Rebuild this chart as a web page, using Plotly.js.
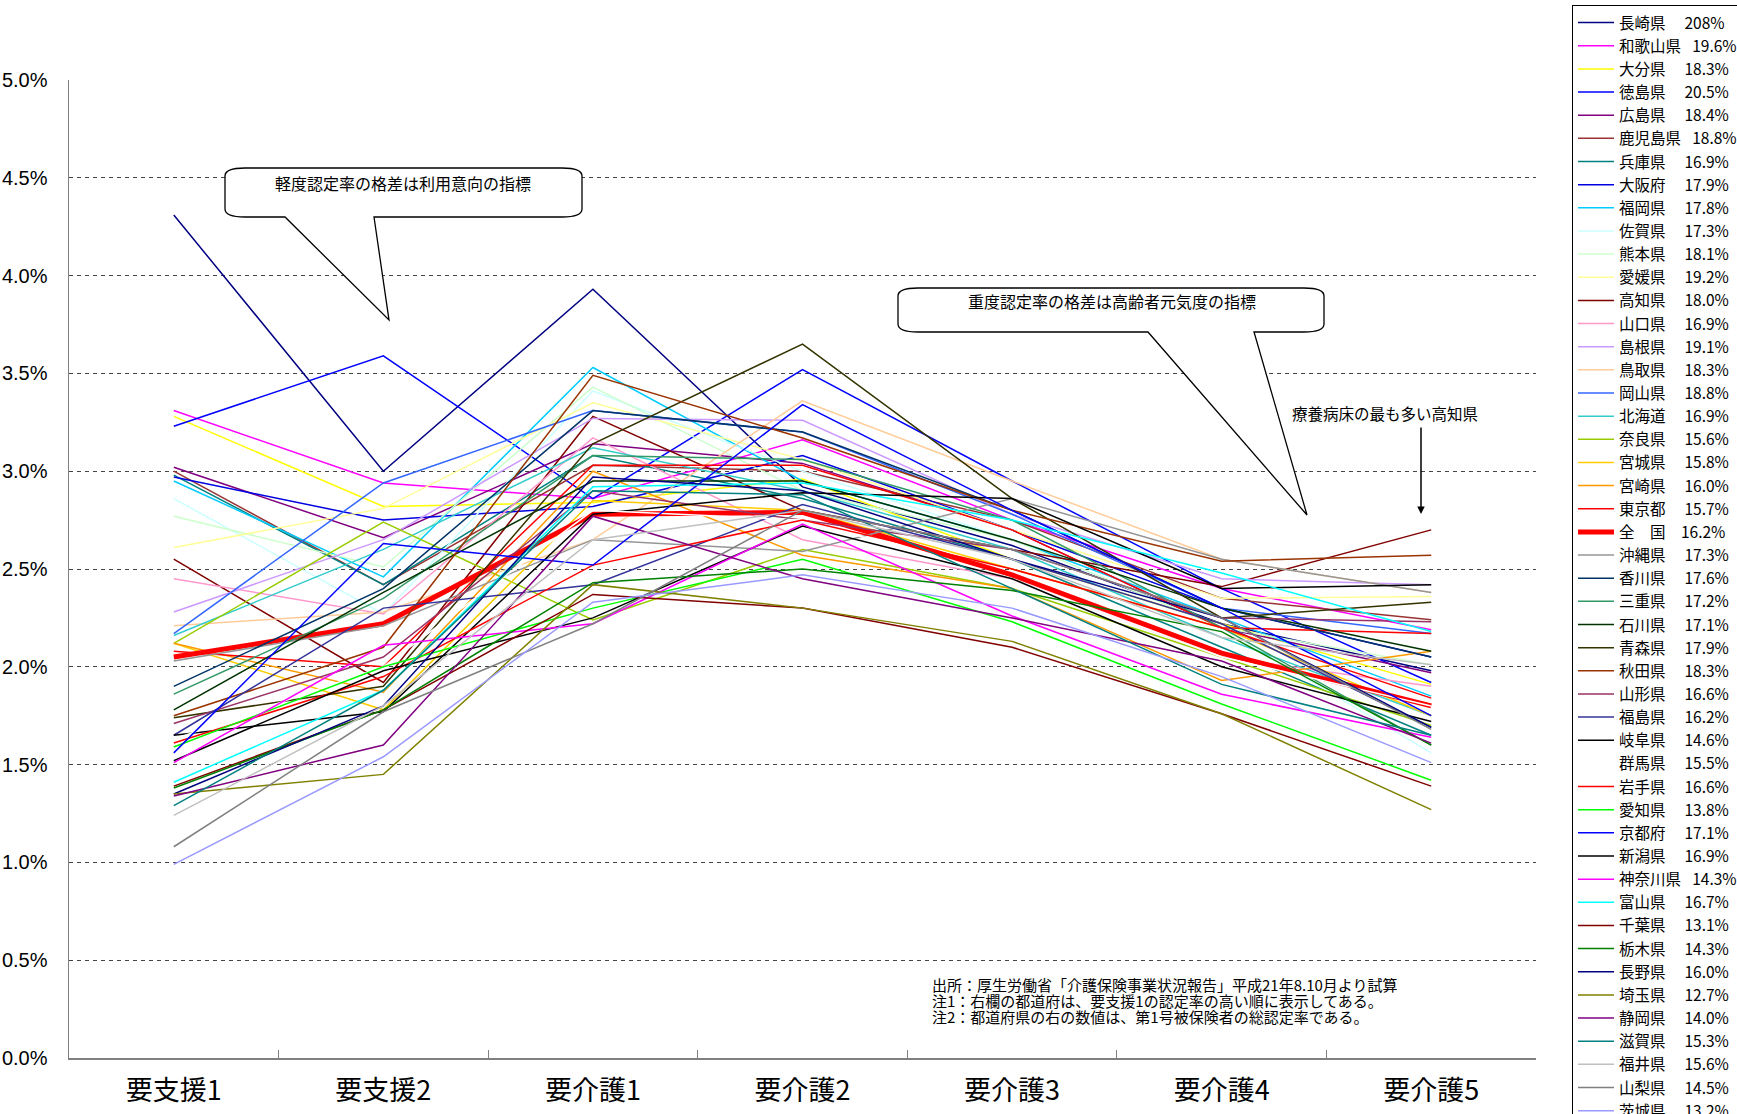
<!DOCTYPE html>
<html>
<head>
<meta charset="utf-8">
<script src="https://cdn.plot.ly/plotly-3.0.1.min.js"></script>
<style>
html,body{margin:0;padding:0;background:#fff;}
#chart{width:1737px;height:1114px;}
</style>
</head>
<body>
<div id="chart"></div>
<script>
// ---- data ----
const categories = ['要支援1','要支援2','要介護1','要介護2','要介護3','要介護4','要介護5'];

const prefNames = ['長崎県','和歌山県','大分県','徳島県','広島県','鹿児島県','兵庫県','大阪府','福岡県','佐賀県',
  '熊本県','愛媛県','高知県','山口県','島根県','鳥取県','岡山県','北海道','奈良県','宮城県',
  '宮崎県','東京都','全　国','沖縄県','香川県','三重県','石川県','青森県','秋田県','山形県',
  '福島県','岐阜県','群馬県','岩手県','愛知県','京都府','新潟県','神奈川県','富山県','千葉県',
  '栃木県','長野県','埼玉県','静岡県','滋賀県','福井県','山梨県','茨城県'];

const totalRates = ['208%','19.6%','18.3%','20.5%','18.4%','18.8%','16.9%','17.9%','17.8%','17.3%',
  '18.1%','19.2%','18.0%','16.9%','19.1%','18.3%','18.8%','16.9%','15.6%','15.8%',
  '16.0%','15.7%','16.2%','17.3%','17.6%','17.2%','17.1%','17.9%','18.3%','16.6%',
  '16.2%','14.6%','15.5%','16.6%','13.8%','17.1%','16.9%','14.3%','16.7%','13.1%',
  '14.3%','16.0%','12.7%','14.0%','15.3%','15.6%','14.5%','13.2%'];

const lineColors = ['#000080','#FF00FF','#FFFF00','#0000FF','#800080','#993333','#008080','#0000E0','#00CCFF','#CCFFFF',
  '#CCFFCC','#FFFF99','#800000','#FF99CC','#CC99FF','#FFCC99','#3366FF','#33CCCC','#99CC00','#FFCC00',
  '#FF9900','#FF0000','#FF0000','#969696','#003366','#339966','#003300','#333300','#993300','#993366',
  '#333399','#000000','#FFFFFF','#FF0000','#00FF00','#0000FF','#000000','#FF00FF','#00FFFF','#800000',
  '#008000','#000080','#808000','#800080','#008080','#C0C0C0','#808080','#9999FF'];

// rates (%) per prefecture, in the order of categories
const nagasaki  = [4.31, 3.00, 3.93, 2.92, 2.62, 2.22, 1.98];
const wakayama  = [3.31, 2.94, 2.86, 3.16, 2.75, 2.40, 2.19];
const oita      = [3.28, 2.82, 2.84, 2.96, 2.55, 2.22, 1.91];
const tokushima = [3.23, 3.59, 2.86, 3.52, 2.95, 2.40, 1.92];
const hiroshima = [3.02, 2.66, 3.14, 3.04, 2.70, 2.20, 1.97];
const kagoshima = [3.00, 2.42, 3.03, 3.00, 2.75, 2.35, 2.24];
const hyogo     = [2.98, 2.42, 3.08, 2.86, 2.55, 2.10, 1.65];
const osaka     = [2.97, 2.75, 2.82, 3.08, 2.70, 2.30, 2.05];
const fukuoka   = [2.95, 2.46, 3.53, 2.95, 2.65, 2.25, 1.85];
const saga      = [2.86, 2.27, 3.41, 3.00, 2.65, 2.20, 1.56];
const kumamoto  = [2.77, 2.51, 3.43, 2.90, 2.65, 2.20, 2.01];
const ehime     = [2.61, 2.81, 3.35, 3.06, 2.70, 2.35, 2.36];
const kochi     = [2.55, 1.92, 3.28, 2.80, 2.60, 2.41, 2.70];
const yamaguchi = [2.45, 2.27, 3.17, 2.65, 2.45, 2.05, 1.90];
const shimane   = [2.28, 2.65, 3.27, 3.26, 2.78, 2.45, 2.42];
const tottori   = [2.21, 2.28, 2.65, 3.36, 2.95, 2.55, 2.38];
const okayama   = [2.17, 2.94, 3.31, 3.20, 2.78, 2.30, 2.17];
const hokkaido  = [2.16, 2.60, 3.12, 2.90, 2.60, 2.15, 1.75];
const nara      = [2.12, 2.74, 2.24, 2.60, 2.40, 2.05, 1.70];
const miyagi    = [2.12, 1.78, 2.85, 2.80, 2.50, 2.20, 1.75];
const miyazaki  = [2.12, 1.87, 3.00, 2.57, 2.40, 1.93, 2.08];
const tokyo     = [2.08, 2.00, 3.03, 3.03, 2.70, 2.20, 2.17];
const national  = [2.05, 2.22, 2.78, 2.79, 2.47, 2.07, 1.80];
const okinawa   = [2.03, 2.21, 2.65, 2.59, 2.86, 2.55, 2.38];
const kagawa    = [1.90, 2.40, 3.31, 3.20, 2.80, 2.30, 2.05];
const mie       = [1.86, 2.35, 3.08, 3.06, 2.75, 2.20, 1.60];
const ishikawa  = [1.78, 2.38, 2.95, 2.95, 2.65, 2.30, 2.08];
const aomori    = [1.74, 1.90, 3.14, 3.65, 2.86, 2.25, 2.33];
const akita     = [1.75, 2.10, 3.49, 3.17, 2.80, 2.54, 2.57];
const yamagata  = [1.71, 2.05, 2.90, 2.75, 2.60, 2.25, 2.23];
const fukushima = [1.65, 2.30, 2.42, 2.83, 2.55, 2.22, 1.69];
const gifu      = [1.65, 1.77, 2.78, 2.89, 2.86, 2.40, 2.42];
const gunma     = [1.63, 2.00, 2.80, 2.75, 2.45, 2.05, 1.80];
const iwate     = [1.61, 1.95, 2.52, 2.75, 2.50, 2.20, 1.84];
const aichi     = [1.59, 2.00, 2.30, 2.55, 2.23, 1.81, 1.42];
const kyoto     = [1.56, 2.63, 2.52, 3.34, 2.80, 2.30, 1.75];
const niigata   = [1.52, 1.98, 2.25, 2.72, 2.45, 2.00, 1.72];
const kanagawa  = [1.51, 2.11, 2.22, 2.73, 2.26, 1.86, 1.64];
const toyama    = [1.41, 1.88, 2.92, 2.94, 2.75, 2.48, 2.18];
const chiba     = [1.39, 1.78, 2.37, 2.30, 2.10, 1.76, 1.39];
const tochigi   = [1.38, 1.78, 2.43, 2.50, 2.39, 2.18, 1.60];
const nagano    = [1.35, 1.80, 2.97, 2.90, 2.55, 2.25, 1.69];
const saitama   = [1.35, 1.45, 2.42, 2.30, 2.13, 1.76, 1.27];
const shizuoka  = [1.34, 1.60, 2.77, 2.45, 2.25, 2.03, 1.61];
const shiga     = [1.29, 1.88, 2.90, 2.88, 2.40, 1.91, 1.65];
const fukui     = [1.24, 1.80, 2.65, 2.80, 2.55, 2.15, 2.01];
const yamanashi = [1.08, 1.77, 2.22, 2.80, 2.60, 2.25, 1.68];
const ibaraki   = [0.99, 1.54, 2.33, 2.47, 2.30, 1.95, 1.51];

const seriesValues = [nagasaki, wakayama, oita, tokushima, hiroshima, kagoshima, hyogo, osaka, fukuoka, saga,
  kumamoto, ehime, kochi, yamaguchi, shimane, tottori, okayama, hokkaido, nara, miyagi,
  miyazaki, tokyo, national, okinawa, kagawa, mie, ishikawa, aomori, akita, yamagata,
  fukushima, gifu, gunma, iwate, aichi, kyoto, niigata, kanagawa, toyama, chiba,
  tochigi, nagano, saitama, shizuoka, shiga, fukui, yamanashi, ibaraki];

const yTicks = [0, 0.5, 1, 1.5, 2, 2.5, 3, 3.5, 4, 4.5, 5];
const yTickText = yTicks.map(v => v.toFixed(1) + '%');

// ---- layout geometry (pixels) ----
const W = 1737, H = 1114;
const PL = 69, PR = 1536, PT = 80, PB = 1058;
const px = X => (X - PL) / (PR - PL);
const py = Y => (PB - Y) / (PB - PT);
function pathFrom(pts) {
  return pts.map(p => {
    const c = p[0]; const rest = [];
    for (let i = 1; i < p.length; i += 2) rest.push(px(p[i]).toFixed(5) + ',' + py(p[i+1]).toFixed(5));
    return c + rest.join(' ');
  }).join(' ');
}

function legendLabel(name, rate) {
  if (name === '全　国') return name + '\u3000' + rate;
  if (name.length >= 4) return name + '\u2002\u00a0' + rate;
  return name + '\u3000\u00a0' + rate;
}

const traces = prefNames.map((n, i) => ({
  type: 'scatter', mode: 'lines',
  x: categories, y: seriesValues[i],
  name: legendLabel(n, totalRates[i]),
  line: {color: lineColors[i], width: n === '全　国' ? 5 : 1.5},
  hoverinfo: 'skip'
}));

const cjk = '"Noto Sans CJK JP", "Noto Sans", sans-serif';
const narrow = '"Liberation Sans Narrow", "Arial Narrow", "Liberation Sans", Arial, sans-serif';

const callout1 = pathFrom([
  ['M',245,168],['L',562,168],['Q',582,168,582,176],['L',582,209],['Q',582,217,562,217],
  ['L',374,217],['L',389,320],['L',285,217],['L',245,217],['Q',225,217,225,209],
  ['L',225,176],['Q',225,168,245,168]]) + ' Z';
const callout2 = pathFrom([
  ['M',918,288],['L',1304,288],['Q',1324,288,1324,296],['L',1324,324],['Q',1324,332,1304,332],
  ['L',1254,332],['L',1307,515],['L',1148,332],['L',918,332],['Q',898,332,898,324],
  ['L',898,296],['Q',898,288,918,288]]) + ' Z';

const noteFont = {family: cjk, size: 15, color: '#000'};

const layout = {
  width: W, height: H,
  paper_bgcolor: '#fff', plot_bgcolor: '#fff',
  margin: {l: PL, r: W - PR, t: PT, b: H - PB, autoexpand: false},
  showlegend: true,
  legend: {
    x: px(1572), y: py(5), xanchor: 'left', yanchor: 'top',
    bgcolor: '#fff', bordercolor: '#000', borderwidth: 1,
    font: {family: cjk, size: 15.5, color: '#000'},
    traceorder: 'normal', maxheight: 1300, itemwidth: 36
  },
  xaxis: {
    type: 'category', range: [-0.5, 6.5],
    showline: true, linecolor: '#808080', linewidth: 1.5,
    ticks: 'inside', tickson: 'boundaries', ticklen: 8, tickcolor: '#808080', tickwidth: 1,
    showgrid: false, zeroline: false,
    tickfont: {family: cjk, size: 27, color: '#000'},
    ticklabelstandoff: 8, fixedrange: true
  },
  yaxis: {
    range: [0, 5], tickmode: 'array', tickvals: yTicks, ticktext: yTickText,
    showline: true, linecolor: '#808080', linewidth: 1.5,
    ticks: '', showgrid: true, gridcolor: '#444', gridwidth: 1, griddash: '4px,4px',
    zeroline: false,
    tickfont: {family: narrow, size: 20, color: '#000'},
    ticklabelstandoff: 16, fixedrange: true
  },
  shapes: [
    {type: 'path', xref: 'paper', yref: 'paper', path: callout1, fillcolor: '#fff', line: {color: '#000', width: 1.3}, layer: 'above'},
    {type: 'path', xref: 'paper', yref: 'paper', path: callout2, fillcolor: '#fff', line: {color: '#000', width: 1.3}, layer: 'above'}
  ],
  annotations: [
    {xref: 'paper', yref: 'paper', x: px(403), y: py(183), text: '軽度認定率の格差は利用意向の指標', showarrow: false,
     font: {family: cjk, size: 16, color: '#000'}, xanchor: 'center', yanchor: 'middle'},
    {xref: 'paper', yref: 'paper', x: px(1112), y: py(301), text: '重度認定率の格差は高齢者元気度の指標', showarrow: false,
     font: {family: cjk, size: 16, color: '#000'}, xanchor: 'center', yanchor: 'middle'},
    {xref: 'paper', yref: 'paper', x: px(1385), y: py(413), text: '療養病床の最も多い高知県', showarrow: false,
     font: {family: cjk, size: 15.5, color: '#000'}, xanchor: 'center', yanchor: 'middle'},
    {xref: 'paper', yref: 'paper', x: px(1421), y: py(514), text: '', showarrow: true,
     ax: 0, ay: -88, arrowhead: 2, arrowsize: 1, arrowwidth: 1.5, arrowcolor: '#000', standoff: 0, startstandoff: 0},
    {xref: 'paper', yref: 'paper', x: px(930), y: py(984), text: '出所：厚生労働省「介護保険事業状況報告」平成21年8.10月より試算', showarrow: false,
     font: noteFont, xanchor: 'left', yanchor: 'middle'},
    {xref: 'paper', yref: 'paper', x: px(930), y: py(1000), text: '注1：右欄の都道府は、要支援1の認定率の高い順に表示してある。', showarrow: false,
     font: noteFont, xanchor: 'left', yanchor: 'middle'},
    {xref: 'paper', yref: 'paper', x: px(930), y: py(1016), text: '注2：都道府県の右の数値は、第1号被保険者の総認定率である。', showarrow: false,
     font: noteFont, xanchor: 'left', yanchor: 'middle'}
  ]
};

Plotly.newPlot('chart', traces, layout, {displayModeBar: false, staticPlot: true});
</script>
</body>
</html>
